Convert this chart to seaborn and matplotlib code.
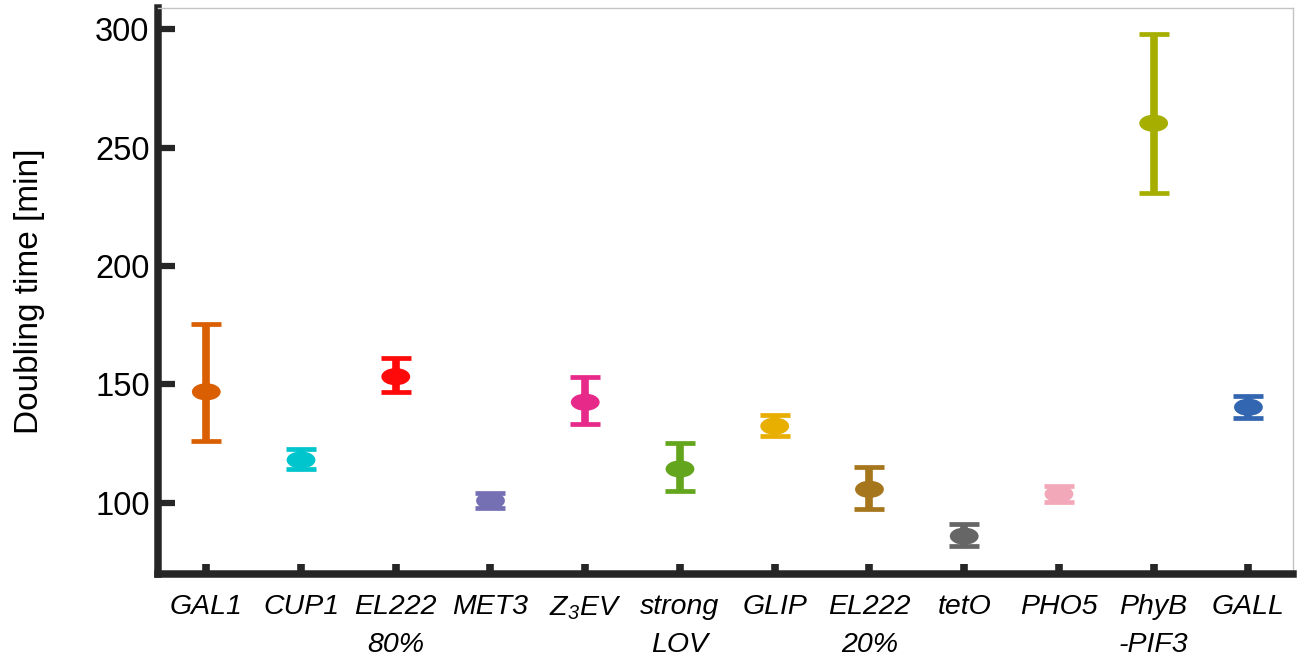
import numpy as np
import pandas as pd
import matplotlib
matplotlib.use("Agg")
import matplotlib.pyplot as plt
from matplotlib.path import Path
from matplotlib.markers import MarkerStyle
from matplotlib.transforms import Affine2D
import seaborn as sns

# Promoter systems and their measured doubling times (minutes)
constructs = ["GAL1", "CUP1", "EL222\n80%", "MET3", "Z$_3$EV", "strong\nLOV",
              "GLIP", "EL222\n20%", "tetO", "PHO5", "PhyB\n-PIF3", "GALL"]
doubling_mean = [146.8, 118.0, 153.2, 100.8, 142.4, 114.2,
                 132.3, 105.6, 85.8, 103.6, 260.3, 140.3]
doubling_upper = [175.3, 122.5, 161.0, 104.1, 152.9, 125.0,
                  137.0, 114.9, 90.8, 107.1, 298.0, 145.2]
doubling_lower = [126.1, 114.0, 146.8, 97.5, 133.2, 104.9,
                  128.1, 97.4, 81.6, 100.1, 231.0, 135.6]
colors = ["#D95F02", "#00C5CD", "#FF0A0A", "#7570B3", "#E7298A", "#63A61E",
          "#E8AE00", "#A6761D", "#666666", "#F2A8B8", "#A6AF00", "#3366B1"]
yticks = [100, 150, 200, 250, 300]

sns.set_style("ticks")
plt.rcParams["font.family"] = ["Liberation Sans", "DejaVu Sans"]
plt.rcParams["mathtext.fontset"] = "custom"
plt.rcParams["mathtext.rm"] = "Liberation Sans:italic"
plt.rcParams["mathtext.it"] = "Liberation Sans:italic"
plt.rcParams["text.color"] = "black"
plt.rcParams["axes.labelcolor"] = "black"
plt.rcParams["xtick.labelcolor"] = "black"
plt.rcParams["ytick.labelcolor"] = "black"

df = pd.DataFrame({
    "pos": np.arange(len(constructs)),
    "construct": constructs,
    "mean": doubling_mean,
    "upper": doubling_upper,
    "lower": doubling_lower,
})

fig = plt.figure(figsize=(12.98, 6.57), dpi=100)
ax = fig.add_axes([0.1217, 0.127, 0.8744, 0.8608])

# asymmetric whiskers, one colour per construct
for i, row in df.iterrows():
    ax.errorbar(row["pos"], row["mean"],
                yerr=[[row["mean"] - row["lower"]], [row["upper"] - row["mean"]]],
                fmt="none", ecolor=colors[i], elinewidth=5.5, capsize=10.8,
                capthick=3.4, zorder=2)

# flattened elliptical marker for the mean
ellipse = MarkerStyle(Path.unit_circle().transformed(Affine2D().scale(1.0, 0.6)))
sns.scatterplot(data=df, x="pos", y="mean", hue="construct",
                palette=dict(zip(constructs, colors)), marker=ellipse,
                s=430, linewidth=0, legend=False, ax=ax, zorder=3)

ax.set_xlim(-0.51, 11.47)
ax.set_ylim(70, 309)
ax.set_xticks(df["pos"])
ax.set_xticklabels(constructs, fontsize=20.5, fontstyle="italic", linespacing=1.58)
ax.set_yticks(yticks)
ax.set_yticklabels([str(v) for v in yticks], fontsize=23.5)
ax.set_xlabel("")
ax.set_ylabel("Doubling time [min]", fontsize=24, labelpad=36)

for side in ["left", "bottom"]:
    ax.spines[side].set_linewidth(5.4)
    ax.spines[side].set_color("#262626")
for side in ["top", "right"]:
    ax.spines[side].set_visible(True)
    ax.spines[side].set_linewidth(1.0)
    ax.spines[side].set_color("#c4c4c4")

ax.tick_params(axis="x", direction="in", length=7, width=5.5, color="#262626",
               pad=15, top=False)
ax.tick_params(axis="y", direction="in", length=12, width=4.5, color="#262626",
               pad=6, right=False)

fig.savefig("out.png", dpi=100)
